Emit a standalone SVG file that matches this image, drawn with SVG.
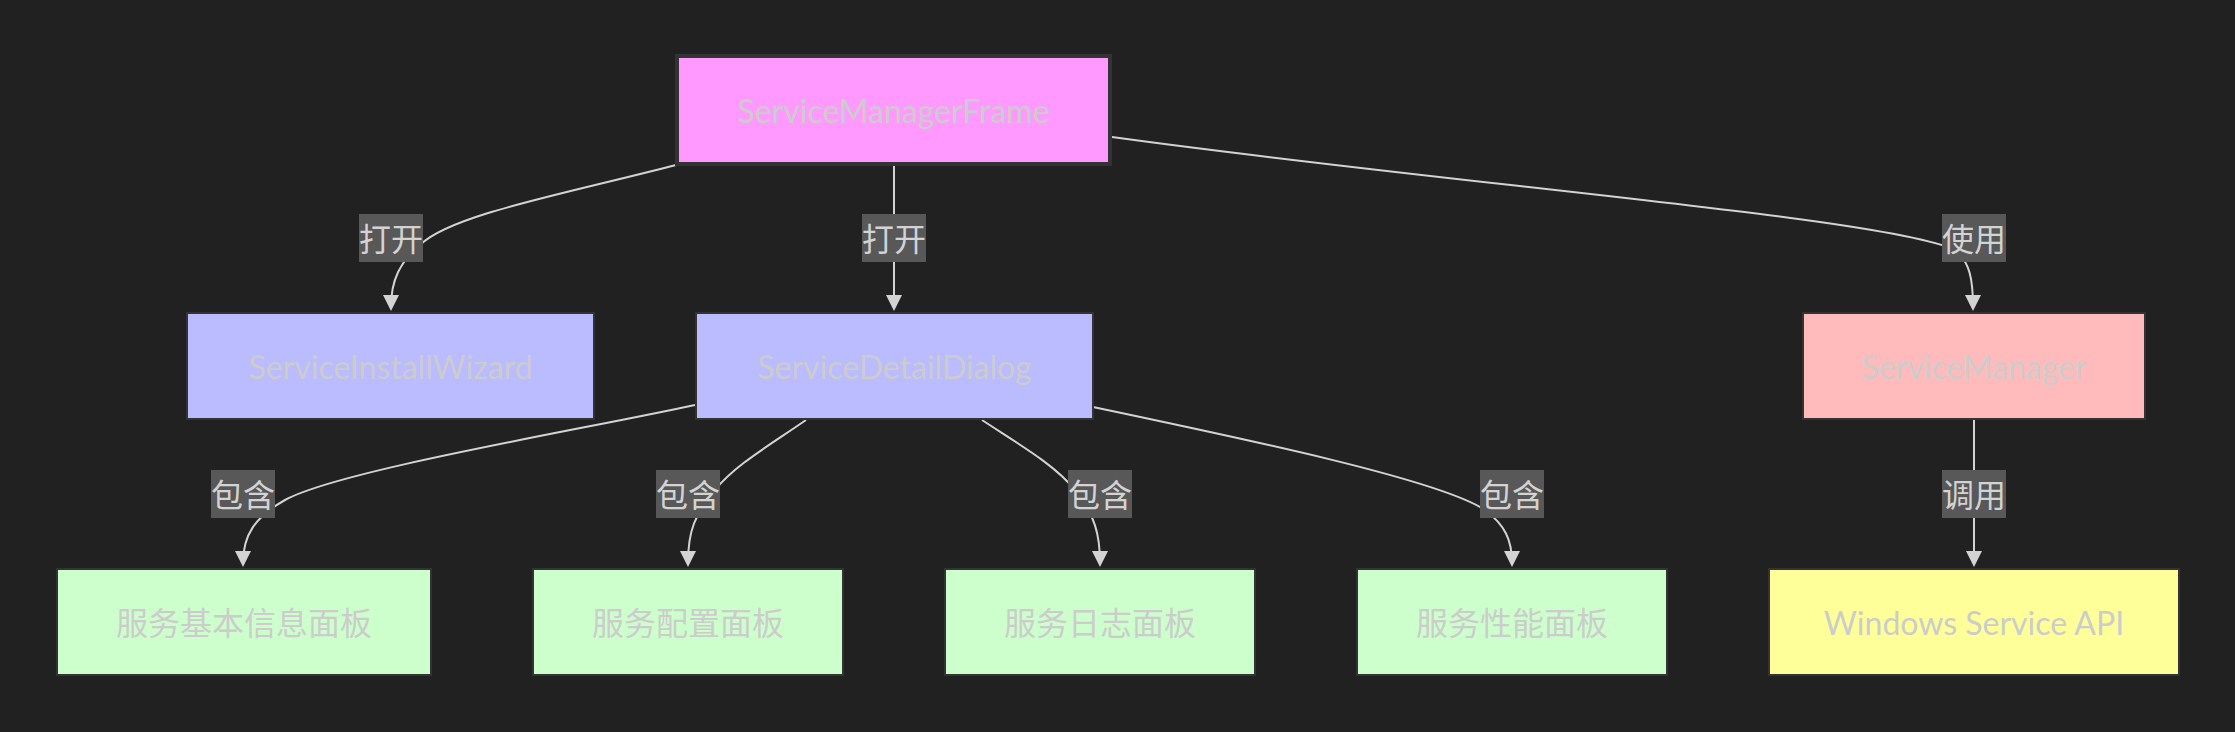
<svg xmlns="http://www.w3.org/2000/svg" width="2235" height="732" viewBox="0 0 2235 732">
<style>
.bg{fill:#212121}
.node rect{stroke:#333;stroke-width:2}
.nt{font-family:"Trebuchet MS",Lato,"Noto Sans CJK SC",sans-serif;font-size:32px;fill:#cccccc;text-anchor:middle;dominant-baseline:central}
.edge{fill:none;stroke:#d3d3d3;stroke-width:2}
.lb rect{fill:#585858}
.lt{font-family:Lato,"Noto Sans CJK SC",sans-serif;font-size:32px;fill:#d3d3d3;text-anchor:middle;dominant-baseline:central}
.pink{fill:#ff99ff}
.blue{fill:#bbbbff}
.rose{fill:#ffbbbb}
.green{fill:#ccffcc}
.yellow{fill:#ffff99}
</style>
<defs>
<marker id="arr" viewBox="0 0 16 16" refX="12" refY="8" markerWidth="16" markerHeight="16" markerUnits="userSpaceOnUse" orient="auto">
<path d="M0,0 L16,8 L0,16 z" fill="#d3d3d3"/>
</marker>
</defs>
<rect class="bg" x="0" y="0" width="2235" height="732"/>
<g id="connectors">
<path class="edge" marker-end="url(#arr)" d="M676,165 C560,195 450,215 420,245 C400,262 391,280 391,307"/>
<path class="edge" marker-end="url(#arr)" d="M894,166 L894,307"/>
<path class="edge" marker-end="url(#arr)" d="M1112,137 C1460,185 1890,218 1955,250 C1970,262 1973,280 1973,307"/>
<path class="edge" marker-end="url(#arr)" d="M695,405 C580,430 340,470 285,500 C255,517 243,535 243,563"/>
<path class="edge" marker-end="url(#arr)" d="M806,420 C770,445 735,465 715,490 C695,515 688,530 688,563"/>
<path class="edge" marker-end="url(#arr)" d="M982,420 C1020,445 1055,465 1075,490 C1095,515 1100,535 1100,563"/>
<path class="edge" marker-end="url(#arr)" d="M1093,407 C1250,440 1440,480 1485,510 C1505,525 1512,540 1512,563"/>
<path class="edge" marker-end="url(#arr)" d="M1974,420 L1974,563"/>
<g class="lb">
<rect x="359" y="214" width="64" height="48"/><text class="lt" x="391" y="238">打开</text>
<rect x="862" y="214" width="64" height="48"/><text class="lt" x="894" y="238">打开</text>
<rect x="1942" y="214" width="64" height="48"/><text class="lt" x="1974" y="238">使用</text>
<rect x="211" y="470" width="64" height="48"/><text class="lt" x="243" y="494">包含</text>
<rect x="656" y="470" width="64" height="48"/><text class="lt" x="688" y="494">包含</text>
<rect x="1068" y="470" width="64" height="48"/><text class="lt" x="1100" y="494">包含</text>
<rect x="1480" y="470" width="64" height="48"/><text class="lt" x="1512" y="494">包含</text>
<rect x="1942" y="470" width="64" height="48"/><text class="lt" x="1974" y="494">调用</text>
</g>
</g>
<g id="ServiceManagerFrame" class="node"><rect class="pink" x="677" y="56" width="433" height="108" style="stroke-width:4"/><text class="nt" x="893.5" y="110">ServiceManagerFrame</text></g>
<g id="ServiceInstallWizard" class="node"><rect class="blue" x="187" y="313" width="407" height="106"/><text class="nt" x="390.5" y="366">ServiceInstallWizard</text></g>
<g id="ServiceDetailDialog" class="node"><rect class="blue" x="696" y="313" width="397" height="106"/><text class="nt" x="894.5" y="366">ServiceDetailDialog</text></g>
<g id="ServiceManager" class="node"><rect class="rose" x="1803" y="313" width="342" height="106"/><text class="nt" x="1974" y="366">ServiceManager</text></g>
<g id="BasicInfoPanel" class="node"><rect class="green" x="57" y="569" width="374" height="106"/><text class="nt" x="244" y="622">服务基本信息面板</text></g>
<g id="ConfigPanel" class="node"><rect class="green" x="533" y="569" width="310" height="106"/><text class="nt" x="688" y="622">服务配置面板</text></g>
<g id="LogPanel" class="node"><rect class="green" x="945" y="569" width="310" height="106"/><text class="nt" x="1100" y="622">服务日志面板</text></g>
<g id="PerfPanel" class="node"><rect class="green" x="1357" y="569" width="310" height="106"/><text class="nt" x="1512" y="622">服务性能面板</text></g>
<g id="WindowsServiceAPI" class="node"><rect class="yellow" x="1769" y="569" width="410" height="106"/><text class="nt" x="1974" y="622">Windows Service API</text></g>
</svg>
